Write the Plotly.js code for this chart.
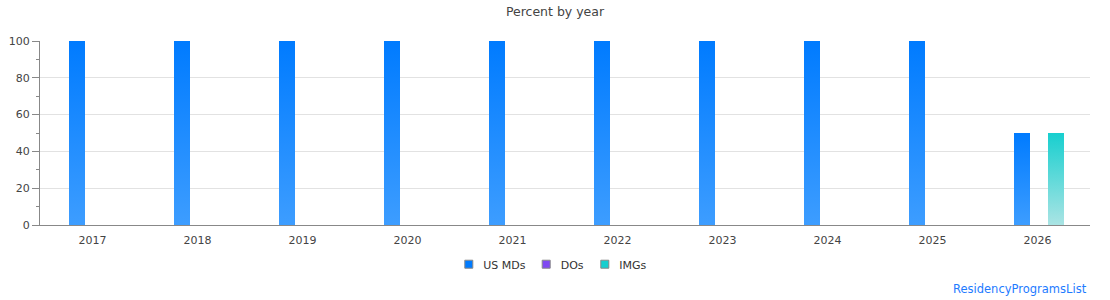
<!DOCTYPE html>
<html><head><meta charset="utf-8">
<script src="https://cdn.plot.ly/plotly-3.0.1.min.js"></script>
<style>body{margin:0;padding:0;background:#fff}#chart{width:1110px;height:300px}</style>
</head><body><div id="chart"></div>
<script>
const years = ['2017','2018','2019','2020','2021','2022','2023','2024','2025','2026'];
const usMDs = [100,100,100,100,100,100,100,100,100,50];
const DOs   = [0,0,0,0,0,0,0,0,0,0];
const IMGs  = [0,0,0,0,0,0,0,0,0,50];
const seriesNames = ['US MDs','DOs','IMGs'];
const seriesColors = ['#007BFF','#8049F2','#17CFCF'];
const gradients = [['#007BFF','#3D9DFF'],['#8049F2','#A27BF5'],['#17CFCF','#AAE4E4']];
const barOffsets = [-0.2238, -0.0619, 0.1];
const barWidth = 0.1524;

const fam = 'DejaVu Sans, Verdana, sans-serif';
const traces = [usMDs, DOs, IMGs].map((v,i)=>({
  type:'bar', x:years, y:v, name:seriesNames[i],
  width:barWidth, offset:barOffsets[i],
  marker:{color:seriesColors[i], line:{width:0}},
  hoverinfo:'none'
}));
const layout = {
  width:1110, height:300,
  margin:{l:40,r:20,t:41,b:75},
  font:{family:fam,size:11,color:'#444'},
  title:{text:'Percent by year', font:{family:fam,size:12.5,color:'#444'}, x:0.5, xanchor:'center', y:0.975, yanchor:'top'},
  barmode:'group',
  showlegend:true,
  legend:{orientation:'h', x:0.5, xanchor:'center', y:-0.143, yanchor:'top', font:{family:fam,size:11,color:'#333'}},
  xaxis:{type:'category', showline:true, linecolor:'#888', linewidth:1, ticks:'', showgrid:false, ticklabelstandoff:5,
         tickfont:{size:11,color:'#444'}, fixedrange:true},
  yaxis:{range:[0,100], dtick:20, showline:true, linecolor:'#888', linewidth:1, ticks:'outside', ticklen:7, tickcolor:'#888',
         gridcolor:'#e2e2e2', zeroline:false, tickfont:{size:11,color:'#444'},
         minor:{dtick:10, ticks:'outside', ticklen:3, tickcolor:'#888', showgrid:false}, fixedrange:true},
  annotations:[{text:'ResidencyProgramsList', xref:'paper', yref:'paper', x:1, xanchor:'right', xshift:-1, y:-0.35, yanchor:'middle',
    showarrow:false, font:{family:fam,size:11.5,color:'#1E7BFF'}}],
  plot_bgcolor:'#fff', paper_bgcolor:'#fff'
};
Plotly.newPlot('chart', traces, layout, {displayModeBar:false, staticPlot:true}).then(gd=>{
  const svg = gd.querySelector('svg.main-svg');
  const ns = 'http://www.w3.org/2000/svg';
  let defs = svg.querySelector('defs');
  gradients.forEach((g,i)=>{
    const lg = document.createElementNS(ns,'linearGradient');
    lg.setAttribute('id','barGrad'+i);
    lg.setAttribute('x1','0');lg.setAttribute('y1','0');lg.setAttribute('x2','0');lg.setAttribute('y2','1');
    [[0,g[0]],[1,g[1]]].forEach(([o,c])=>{
      const s = document.createElementNS(ns,'stop');
      s.setAttribute('offset',o);s.setAttribute('stop-color',c);lg.appendChild(s);
    });
    defs.appendChild(lg);
  });
  gd.querySelectorAll('.barlayer .trace.bars').forEach((tr,i)=>{
    tr.querySelectorAll('path').forEach(p=>{p.style.fill='url(#barGrad'+i+')';});
  });
  // legend styling: small bordered squares, tight spacing
  const textLeft = [483.3, 560.7, 619.3];
  const textMidY = 265;
  gd.querySelectorAll('.legend .traces').forEach((item,i)=>{
    item.querySelectorAll('.legendpoints path').forEach(p=>{
      p.setAttribute('d','M4,4H-4V-4H4Z');
      p.setAttribute('transform','translate(25.5,0)');
      p.style.stroke='#888'; p.style.strokeWidth='1px';
    });
    const txt = item.querySelector('.legendtext');
    if(!txt) return;
    const r = txt.getBoundingClientRect();
    const dx = textLeft[i] - r.left;
    const dy = textMidY - (r.top + r.height/2);
    const m = /translate\(([-\d.]+)[ ,]+([-\d.]+)\)/.exec(item.getAttribute('transform')||'translate(0,0)');
    const x0 = m?parseFloat(m[1]):0, y0 = m?parseFloat(m[2]):0;
    item.setAttribute('transform','translate('+(x0+dx)+','+(y0+dy)+')');
  });
});
</script></body></html>
